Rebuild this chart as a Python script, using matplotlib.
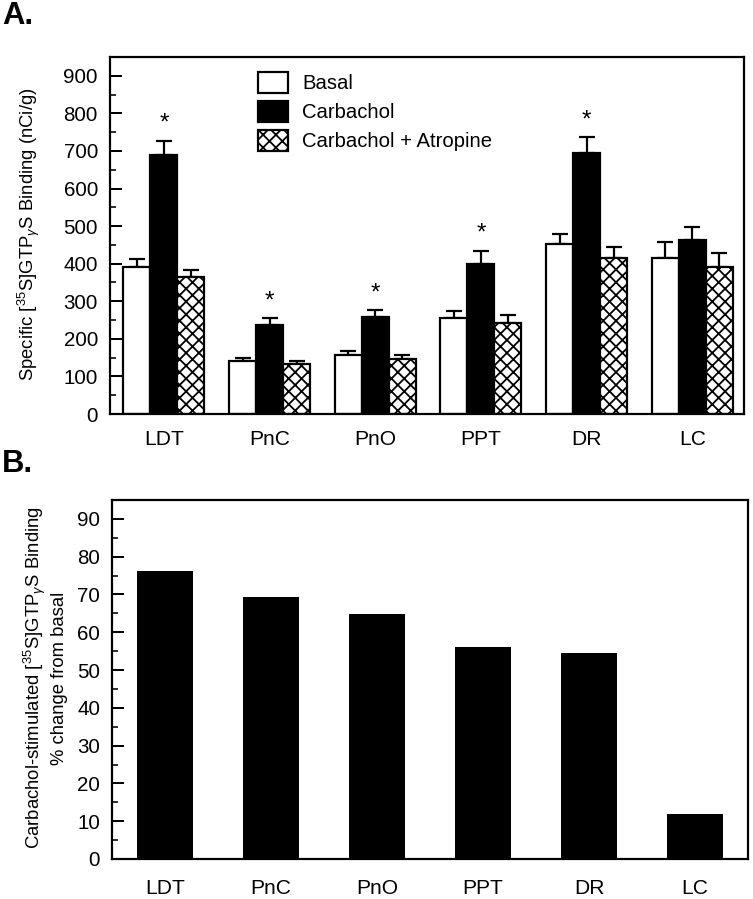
import numpy as np
import matplotlib
matplotlib.use("Agg")
import matplotlib.pyplot as plt
from matplotlib.ticker import MultipleLocator

# ---------------- data ----------------
regions = ["LDT", "PnC", "PnO", "PPT", "DR", "LC"]
series_names = ["Basal", "Carbachol", "Carbachol + Atropine"]
basal = [390, 140, 157, 256, 452, 415]
basal_err = [23, 10, 10, 17, 27, 43]
carbachol = [690, 237, 258, 400, 694, 463]
carbachol_err = [37, 18, 18, 35, 42, 35]
atropine = [365, 132, 146, 242, 415, 390]
atropine_err = [18, 10, 11, 22, 30, 38]
significant = [True, True, True, True, True, False]
pct_change = [76.1, 69.4, 64.9, 56.2, 54.6, 11.9]

# ---------------- style ----------------
DPI = 77
W, H = 753, 899
def pt(px):
    return px * 72.0 / DPI

plt.rcParams['font.family'] = ['Liberation Sans', 'DejaVu Sans']
plt.rcParams['mathtext.fontset'] = 'custom'
plt.rcParams['mathtext.rm'] = 'Liberation Sans'
plt.rcParams['mathtext.it'] = 'Liberation Sans:italic'
plt.rcParams['mathtext.bf'] = 'Liberation Sans:bold'
plt.rcParams['hatch.linewidth'] = pt(1.8)
plt.rcParams['hatch.color'] = 'black'

fig = plt.figure(figsize=(W / DPI, H / DPI), dpi=DPI)

def axes_px(left, top, right, bottom):
    return fig.add_axes([left / W, 1 - bottom / H, (right - left) / W, (bottom - top) / H])

def style_axes(ax, major, minor):
    for s in ax.spines.values():
        s.set_linewidth(pt(2.2))
    ax.yaxis.set_major_locator(MultipleLocator(major))
    ax.yaxis.set_minor_locator(MultipleLocator(minor))
    ax.tick_params(axis='y', which='major', direction='in', length=pt(12), width=pt(2),
                   labelsize=pt(20.5), pad=pt(12), right=False)
    ax.tick_params(axis='y', which='minor', direction='in', length=pt(6), width=pt(1.6), right=False)
    ax.tick_params(axis='x', which='both', length=0, labelsize=pt(21), top=False)

x = np.arange(len(regions))

# ---------------- panel A ----------------
axA = axes_px(110, 57, 744, 414)
bw = 0.255
lw = pt(2.2)
bA = axA.bar(x - bw, basal, bw, color='white', edgecolor='black', linewidth=lw, label=series_names[0], zorder=2)
bB = axA.bar(x, carbachol, bw, color='black', edgecolor='black', linewidth=lw, label=series_names[1], zorder=2)
bC = axA.bar(x + bw, atropine, bw, color='white', edgecolor='black', linewidth=lw, hatch='xx',
             label=series_names[2], zorder=2)
for off, vals, errs in [(-bw, basal, basal_err), (0, carbachol, carbachol_err), (bw, atropine, atropine_err)]:
    axA.errorbar(x + off, vals, yerr=[np.zeros(len(vals)), errs], fmt='none', ecolor='black',
                 elinewidth=pt(2.2), capsize=pt(8), capthick=pt(2.2), zorder=1)
for i, sig in enumerate(significant):
    if sig:
        axA.text(x[i], carbachol[i] + carbachol_err[i] + 45, '*', ha='center', va='center',
                 fontsize=pt(24))
axA.set_xlim(-0.51, 5.49)
axA.set_ylim(0, 950)
style_axes(axA, 100, 50)
axA.set_xticks(x)
axA.set_xticklabels(regions)
axA.tick_params(axis='x', pad=pt(16))
axA.set_ylabel(r'Specific [$^{35}$S]GTP$_{\gamma}$S Binding (nCi/g)', fontsize=pt(18.5))
axA.yaxis.set_label_coords((42 - 110) / 634, 0.504)

fs_leg = 20.3
leg = axA.legend(handles=[bA, bB, bC], loc='upper left', bbox_to_anchor=((258 - 110) / 634, (414 - 72) / 357),
                 frameon=False, fontsize=pt(fs_leg), handlelength=30 / fs_leg, handleheight=24 / fs_leg,
                 handletextpad=14 / fs_leg, labelspacing=8 / fs_leg, borderpad=0, borderaxespad=0)

fig.text(2 / W, 1 - 16 / H, 'A.', fontsize=pt(31), fontweight='bold', va='center', ha='left')

# ---------------- panel B ----------------
axB = axes_px(112, 500, 748, 859)
axB.bar(x, pct_change, 0.52, color='black', edgecolor='black', linewidth=0, zorder=2)
axB.set_xlim(-0.5, 5.5)
axB.set_ylim(0, 95)
style_axes(axB, 10, 5)
axB.set_xticks(x)
axB.set_xticklabels(regions)
axB.tick_params(axis='x', pad=pt(20))
axB.set_ylabel('Carbachol-stimulated [$^{35}$S]GTP$_{\\gamma}$S Binding\n% change from basal',
               fontsize=pt(18.5), linespacing=1.2)
axB.yaxis.set_label_coords((68 - 112) / 636, 0.504)

fig.text(2 / W, 1 - 464 / H, 'B.', fontsize=pt(31), fontweight='bold', va='center', ha='left')

fig.savefig('out.png', dpi=DPI)
